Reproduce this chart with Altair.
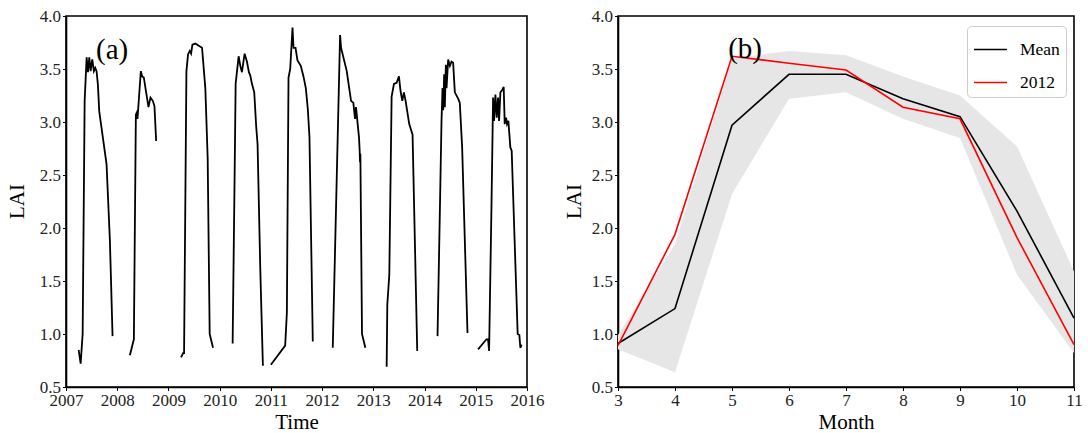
import altair as alt
import pandas as pd

# ---------------- Panel (a): LAI time series, one growing season per list ----------------
t2007 = [2007.247, 2007.286, 2007.325, 2007.364, 2007.403, 2007.429, 2007.455, 2007.481, 2007.513,
         2007.545, 2007.571, 2007.597, 2007.623, 2007.649, 2007.792, 2007.857, 2007.909]
v2007 = [0.85, 0.72, 1.00, 3.20, 3.61, 3.47, 3.61, 3.48, 3.59, 3.48, 3.51, 3.48, 3.35, 3.10, 2.60, 1.88, 0.98]

t2008 = [2008.247, 2008.325, 2008.364, 2008.383, 2008.396, 2008.429, 2008.461, 2008.487, 2008.519,
         2008.565, 2008.610, 2008.649, 2008.695, 2008.727, 2008.760]
v2008 = [0.80, 0.95, 3.07, 3.09, 3.03, 3.26, 3.48, 3.43, 3.42, 3.28, 3.14, 3.23, 3.20, 3.15, 2.82]

t2009 = [2009.247, 2009.286, 2009.305, 2009.351, 2009.383, 2009.416, 2009.442, 2009.468, 2009.526,
         2009.591, 2009.656, 2009.720, 2009.766, 2009.805, 2009.870]
v2009 = [0.78, 0.82, 0.82, 3.48, 3.64, 3.67, 3.645, 3.73, 3.74, 3.72, 3.70, 3.32, 2.66, 1.00, 0.87]

t2010 = [2010.253, 2010.292, 2010.312, 2010.370, 2010.403, 2010.435, 2010.487, 2010.532, 2010.571,
         2010.597, 2010.630, 2010.675, 2010.714, 2010.740, 2010.792, 2010.844]
v2010 = [0.91, 2.50, 3.36, 3.62, 3.53, 3.47, 3.645, 3.57, 3.47, 3.44, 3.36, 3.28, 2.95, 2.79, 1.63, 0.70]

t2011 = [2011.000, 2011.279, 2011.312, 2011.344, 2011.377, 2011.422, 2011.442, 2011.481, 2011.519,
         2011.584, 2011.636, 2011.682, 2011.721, 2011.753, 2011.818]
v2011 = [0.71, 0.89, 1.20, 3.42, 3.50, 3.89, 3.70, 3.70, 3.58, 3.53, 3.43, 3.32, 3.12, 2.86, 0.93]

t2012 = [2012.208, 2012.351, 2012.370, 2012.481, 2012.565, 2012.610, 2012.643, 2012.662, 2012.688,
         2012.721, 2012.734, 2012.740, 2012.747, 2012.779, 2012.844]
v2012 = [0.87, 3.82, 3.70, 3.48, 3.20, 3.18, 3.03, 3.14, 3.01, 2.85, 2.72, 2.62, 2.70, 1.00, 0.87]

t2013 = [2013.260, 2013.273, 2013.312, 2013.357, 2013.403, 2013.455, 2013.500, 2013.532, 2013.565,
         2013.597, 2013.630, 2013.662, 2013.701, 2013.766, 2013.857]
v2013 = [0.69, 1.28, 1.56, 3.24, 3.36, 3.37, 3.43, 3.29, 3.20, 3.28, 3.20, 3.10, 2.98, 2.88, 0.84]

t2014 = [2014.253, 2014.299, 2014.331, 2014.351, 2014.364, 2014.383, 2014.396, 2014.416, 2014.429,
         2014.461, 2014.494, 2014.526, 2014.558, 2014.591, 2014.656, 2014.688, 2014.734, 2014.838]
v2014 = [0.98, 2.16, 3.01, 3.32, 3.11, 3.45, 3.14, 3.54, 3.32, 3.59, 3.53, 3.57, 3.56, 3.28, 3.22,
         3.18, 2.76, 1.01]

t2015 = [2015.045, 2015.208, 2015.240, 2015.260, 2015.305, 2015.338, 2015.357, 2015.383, 2015.409,
         2015.435, 2015.455, 2015.481, 2015.513, 2015.545, 2015.565, 2015.591, 2015.610, 2015.636,
         2015.675, 2015.701, 2015.818, 2015.851, 2015.870, 2015.896]
v2015 = [0.855, 0.95, 0.95, 0.84, 2.16, 3.23, 3.01, 3.26, 3.04, 3.23, 3.01, 3.28, 3.30, 3.33, 2.98,
         3.04, 2.98, 3.01, 2.76, 2.73, 1.00, 0.99, 0.87, 0.90]

seasons = {"2007": (t2007, v2007), "2008": (t2008, v2008), "2009": (t2009, v2009),
           "2010": (t2010, v2010), "2011": (t2011, v2011), "2012": (t2012, v2012),
           "2013": (t2013, v2013), "2014": (t2014, v2014), "2015": (t2015, v2015)}

# ---------------- Panel (b): monthly mean, 2012, and range ----------------
months = [3, 4, 5, 6, 7, 8, 9, 10, 11]
mean_lai = [0.91, 1.24, 2.97, 3.45, 3.45, 3.22, 3.05, 2.16, 1.15]
lai_2012 = [0.89, 1.94, 3.62, 3.555, 3.49, 3.14, 3.03, 1.91, 0.90]
band_low = [0.855, 0.64, 2.32, 3.22, 3.28, 3.03, 2.85, 1.56, 0.82]
band_high = [0.99, 1.85, 3.60, 3.67, 3.63, 3.43, 3.25, 2.77, 1.59]

year_ticks = list(range(2007, 2017))
lai_ticks = [0.5, 1.0, 1.5, 2.0, 2.5, 3.0, 3.5, 4.0]

label_a = {"text": "(a)", "x": 2007.9, "y": 3.68}
label_b = {"text": "(b)", "x": 5.23, "y": 3.69}

FONT = "Liberation Serif"

rows = []
for s, (ts, vs) in seasons.items():
    for t, v in zip(ts, vs):
        rows.append({"season": s, "time": t, "lai": v})
df_a = pd.DataFrame(rows)

yscale = alt.Scale(domain=[0.5, 4.0], nice=False, zero=False)
yaxis_a = alt.Axis(values=lai_ticks, format=".1f", title="LAI", titleX=-43, titleY=185,
                   titleAngle=270, titleAlign="center", titleBaseline="alphabetic")
yaxis_b = alt.Axis(values=lai_ticks, format=".1f", title="LAI", titleX=-38, titleY=185,
                   titleAngle=270, titleAlign="center", titleBaseline="alphabetic")

line_a = alt.Chart(df_a).mark_line(color="black", strokeWidth=1.8).encode(
    x=alt.X("time:Q", scale=alt.Scale(domain=[2007, 2016], nice=False, zero=False),
            axis=alt.Axis(values=year_ticks, format="d", title="Time",
                          titleY=41, titleBaseline="alphabetic")),
    y=alt.Y("lai:Q", scale=yscale, axis=yaxis_a),
    detail="season:N",
    order="time:Q",
)
text_a = alt.Chart(pd.DataFrame([label_a])).mark_text(
    font=FONT, fontSize=29, color="black", align="center", baseline="middle"
).encode(x="x:Q", y="y:Q", text="text:N")

panel_a = alt.layer(line_a, text_a).properties(width=461, height=371)

df_lines = pd.DataFrame(
    [{"month": m, "lai": v, "series": "Mean"} for m, v in zip(months, mean_lai)]
    + [{"month": m, "lai": v, "series": "2012"} for m, v in zip(months, lai_2012)]
)
df_band = pd.DataFrame({"month": months, "low": band_low, "high": band_high})

xscale_b = alt.Scale(domain=[3, 11], nice=False, zero=False)
xaxis_b = alt.Axis(values=months, format="d", title="Month", titleY=41, titleBaseline="alphabetic")

band = alt.Chart(df_band).mark_area(color="#e6e6e6", opacity=1).encode(
    x=alt.X("month:Q", scale=xscale_b, axis=xaxis_b),
    y=alt.Y("low:Q", scale=yscale, axis=yaxis_b),
    y2="high:Q",
)
lines_b = alt.Chart(df_lines).mark_line(strokeWidth=1.6).encode(
    x=alt.X("month:Q", scale=xscale_b, axis=xaxis_b),
    y=alt.Y("lai:Q", scale=yscale, axis=yaxis_b),
    color=alt.Color(
        "series:N",
        scale=alt.Scale(domain=["Mean", "2012"], range=["black", "#ff0000"]),
        sort=["Mean", "2012"],
        legend=alt.Legend(
            title=None, orient="none", legendX=901, legendY=10,
            strokeColor="#cccccc", fillColor="white", cornerRadius=4, padding=6,
            symbolType="stroke", symbolSize=1089, symbolStrokeWidth=1.6,
            labelFont=FONT, labelFontSize=17.5, labelColor="black", labelOffset=12,
            rowPadding=7,
        ),
    ),
    order=alt.Order("month:Q"),
)
text_b = alt.Chart(pd.DataFrame([label_b])).mark_text(
    font=FONT, fontSize=29, color="black", align="center", baseline="middle"
).encode(x="x:Q", y="y:Q", text="text:N")

panel_b = alt.layer(band, lines_b, text_b).properties(width=456, height=371)

chart = alt.hconcat(panel_a, panel_b, spacing=91, bounds="flush").properties(
    padding={"left": 5, "top": 6, "right": 5, "bottom": 2}
).configure_view(
    stroke="black", strokeWidth=1.6
).configure_axis(
    grid=False,
    domain=True, domainColor="black", domainWidth=1.6,
    ticks=True, tickColor="black", tickSize=3.5, tickWidth=1,
    labelFont=FONT, labelFontSize=17, labelColor="#222222", labelPadding=2,
    labelFlush=False, labelOverlap=False,
    titleFont=FONT, titleFontSize=21, titleFontWeight="normal", titleColor="black",
)

chart.save("out.html", embed_options={"renderer": "svg", "actions": False})
